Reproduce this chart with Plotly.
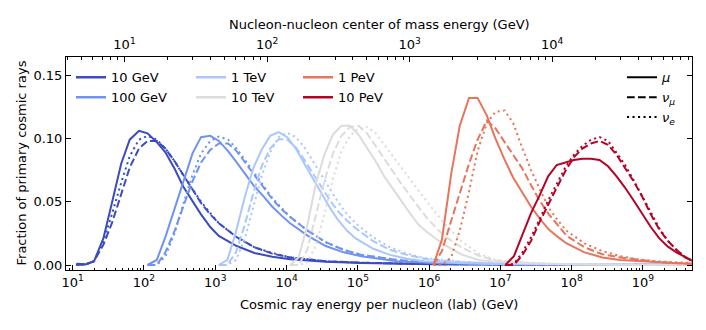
import plotly.graph_objects as go

# Primary cosmic ray energies and their colours (coolwarm)
energy_labels = ['10 GeV', '100 GeV', '1 TeV', '10 TeV', '1 PeV', '10 PeV']
colors = ['#3b4cc0', '#7092f3', '#aac7fd', '#dddcdc', '#e7755c', '#b40426']

# log10 of cosmic ray energy per nucleon (GeV) and fractions, one block per primary energy
loge_10gev = [1.05, 1.18, 1.30, 1.43, 1.55, 1.68, 1.80, 1.93, 2.05, 2.18, 2.30, 2.43, 2.55, 2.68,
              2.80, 2.93, 3.05, 3.30, 3.55, 3.80, 4.05, 4.55, 5.05, 6.05, 7.05, 8.05, 9.05, 9.70]
mu_10gev = [0.001, 0.0005, 0.003, 0.021, 0.049, 0.080, 0.099, 0.106, 0.104, 0.097, 0.089, 0.076, 0.062, 0.050,
            0.040, 0.030, 0.023, 0.015, 0.0095, 0.0065, 0.0045, 0.0025, 0.0015, 0.0006, 0.0003, 0.0002, 0.0001, 0.0001]
numu_10gev = [0.0, 0.0005, 0.003, 0.016, 0.033, 0.056, 0.077, 0.092, 0.098, 0.098, 0.092, 0.082, 0.071, 0.060,
              0.049, 0.040, 0.033, 0.022, 0.014, 0.009, 0.006, 0.003, 0.0018, 0.0007, 0.0003, 0.0002, 0.0001, 0.0001]
nue_10gev = [0.0, 0.0005, 0.003, 0.019, 0.040, 0.065, 0.086, 0.099, 0.102, 0.099, 0.092, 0.082, 0.071, 0.060,
             0.050, 0.041, 0.033, 0.022, 0.014, 0.0095, 0.006, 0.003, 0.0018, 0.0007, 0.0003, 0.0002, 0.0001, 0.0001]

loge_100gev = [2.05, 2.18, 2.30, 2.43, 2.55, 2.68, 2.80, 2.93, 3.05, 3.18, 3.30, 3.43, 3.55, 3.68,
               3.80, 3.93, 4.05, 4.30, 4.55, 4.80, 5.05, 5.55, 6.05, 7.05, 8.05, 9.05, 9.70]
mu_100gev = [0.0, 0.004, 0.022, 0.045, 0.066, 0.088, 0.101, 0.102, 0.098, 0.090, 0.081, 0.071, 0.062, 0.054,
             0.046, 0.039, 0.033, 0.023, 0.015, 0.010, 0.007, 0.003, 0.0015, 0.0006, 0.0003, 0.0002, 0.0001]
numu_100gev = [0.0, 0.0, 0.010, 0.027, 0.046, 0.066, 0.081, 0.091, 0.096, 0.096, 0.090, 0.080, 0.071, 0.061,
               0.052, 0.044, 0.038, 0.027, 0.018, 0.012, 0.008, 0.004, 0.002, 0.0007, 0.0003, 0.0002, 0.0001]
nue_100gev = [0.0, 0.0, 0.007, 0.025, 0.048, 0.071, 0.088, 0.098, 0.1015, 0.099, 0.092, 0.082, 0.072, 0.062,
              0.053, 0.045, 0.038, 0.027, 0.018, 0.012, 0.008, 0.004, 0.002, 0.0007, 0.0003, 0.0002, 0.0001]

loge_1tev = [3.05, 3.17, 3.29, 3.41, 3.53, 3.65, 3.77, 3.89, 4.01, 4.13, 4.25, 4.37, 4.49,
             4.61, 4.73, 4.85, 4.97, 5.21, 5.45, 5.69, 5.93, 6.41, 6.89, 7.85, 8.81, 9.70]
mu_1tev = [0.0, 0.004, 0.026, 0.053, 0.076, 0.091, 0.102, 0.105, 0.101, 0.092, 0.080, 0.068, 0.056,
           0.045, 0.035, 0.027, 0.021, 0.013, 0.008, 0.005, 0.003, 0.0015, 0.0008, 0.0004, 0.0002, 0.0001]
numu_1tev = [0.0, 0.0, 0.010, 0.031, 0.056, 0.078, 0.092, 0.0995, 0.099, 0.093, 0.083, 0.072, 0.061,
             0.051, 0.042, 0.035, 0.029, 0.019, 0.012, 0.008, 0.005, 0.0025, 0.0012, 0.0005, 0.0002, 0.0001]
nue_1tev = [0.0, 0.0, 0.004, 0.020, 0.045, 0.070, 0.089, 0.101, 0.1045, 0.101, 0.093, 0.082, 0.070,
            0.059, 0.049, 0.040, 0.033, 0.022, 0.014, 0.009, 0.0055, 0.0028, 0.0013, 0.0005, 0.0002, 0.0001]

loge_10tev = [4.05, 4.17, 4.29, 4.41, 4.53, 4.65, 4.77, 4.89, 5.01, 5.13, 5.25, 5.37, 5.49,
              5.61, 5.73, 5.85, 5.97, 6.21, 6.45, 6.69, 6.93, 7.41, 7.89, 8.85, 9.70]
mu_10tev = [0.0, 0.006, 0.031, 0.064, 0.087, 0.103, 0.110, 0.110, 0.103, 0.093, 0.082, 0.070, 0.060,
            0.050, 0.041, 0.032, 0.026, 0.016, 0.0085, 0.004, 0.0025, 0.0012, 0.0006, 0.0002, 0.0001]
numu_10tev = [0.0, 0.0, 0.012, 0.038, 0.066, 0.088, 0.102, 0.109, 0.110, 0.104, 0.094, 0.083, 0.074,
              0.064, 0.055, 0.046, 0.037, 0.023, 0.014, 0.0075, 0.0035, 0.0015, 0.0007, 0.0003, 0.0001]
nue_10tev = [0.0, 0.0, 0.002, 0.015, 0.040, 0.068, 0.090, 0.102, 0.108, 0.109, 0.104, 0.095, 0.086,
             0.077, 0.068, 0.059, 0.050, 0.033, 0.019, 0.009, 0.004, 0.0018, 0.0008, 0.0003, 0.0001]

loge_1pev = [6.06, 6.18, 6.31, 6.43, 6.56, 6.68, 6.81, 6.93, 7.06, 7.18, 7.31, 7.43,
             7.56, 7.68, 7.81, 7.93, 8.18, 8.43, 8.68, 8.93, 9.18, 9.43, 9.70]
mu_1pev = [0.0, 0.020, 0.072, 0.110, 0.132, 0.132, 0.118, 0.100, 0.083, 0.069, 0.057, 0.046,
           0.036, 0.028, 0.022, 0.017, 0.010, 0.006, 0.004, 0.003, 0.002, 0.0015, 0.001]
numu_1pev = [0.0, 0.011, 0.035, 0.056, 0.080, 0.099, 0.114, 0.108, 0.097, 0.087, 0.076, 0.063,
             0.050, 0.040, 0.031, 0.023, 0.014, 0.0085, 0.006, 0.004, 0.0025, 0.0015, 0.001]
nue_1pev = [0.0, 0.0, 0.006, 0.027, 0.058, 0.090, 0.112, 0.121, 0.122, 0.112, 0.092, 0.075,
            0.059, 0.045, 0.035, 0.027, 0.017, 0.011, 0.007, 0.0045, 0.003, 0.002, 0.0015]

loge_10pev = [7.07, 7.19, 7.31, 7.43, 7.55, 7.67, 7.79, 7.91, 8.03, 8.15, 8.27, 8.39,
              8.51, 8.63, 8.75, 8.87, 8.99, 9.11, 9.23, 9.35, 9.47, 9.59, 9.70]
mu_10pev = [0.0, 0.007, 0.024, 0.041, 0.055, 0.070, 0.079, 0.081, 0.083, 0.084, 0.084, 0.083,
            0.078, 0.070, 0.061, 0.051, 0.040, 0.030, 0.021, 0.0145, 0.010, 0.006, 0.003]
numu_10pev = [0.0, 0.0, 0.008, 0.019, 0.034, 0.048, 0.061, 0.074, 0.085, 0.092, 0.096, 0.098,
              0.095, 0.087, 0.077, 0.066, 0.054, 0.040, 0.028, 0.019, 0.012, 0.006, 0.003]
nue_10pev = [0.0, 0.001, 0.010, 0.022, 0.036, 0.051, 0.064, 0.077, 0.087, 0.094, 0.099, 0.101,
             0.098, 0.089, 0.079, 0.067, 0.054, 0.041, 0.029, 0.019, 0.012, 0.0065, 0.003]

groups = [
    (loge_10gev, mu_10gev, numu_10gev, nue_10gev),
    (loge_100gev, mu_100gev, numu_100gev, nue_100gev),
    (loge_1tev, mu_1tev, numu_1tev, nue_1tev),
    (loge_10tev, mu_10tev, numu_10tev, nue_10tev),
    (loge_1pev, mu_1pev, numu_1pev, nue_1pev),
    (loge_10pev, mu_10pev, numu_10pev, nue_10pev),
]

particle_labels = ['<i>μ</i>', '<i>ν<sub>μ</sub></i>', '<i>ν<sub>e</sub></i>']
dashes = ['solid', '7.7px,3.3px', '2.1px,3.4px']

bottom_ticks = [10, 1e2, 1e3, 1e4, 1e5, 1e6, 1e7, 1e8, 1e9]
bottom_text = ['10<sup>%d</sup>' % k for k in range(1, 10)]
top_sqrt_s = [10, 100, 1000, 10000]
top_text = ['10<sup>1</sup>', '10<sup>2</sup>', '10<sup>3</sup>', '10<sup>4</sup>']
m_nucleon = 0.938

fig = go.Figure()

for (loge, mu, numu, nue), c in zip(groups, colors):
    e = [10 ** v for v in loge]
    for y, d in zip([mu, numu, nue], dashes):
        fig.add_trace(go.Scatter(x=e, y=y, mode='lines', line=dict(color=c, width=2, dash=d),
                                 showlegend=False, hoverinfo='skip'))

# energy legends, one per column
for i, (lab, c) in enumerate(zip(energy_labels, colors)):
    lg = ['legend', 'legend2', 'legend3'][i // 2]
    fig.add_trace(go.Scatter(x=[None], y=[None], mode='lines', name=lab,
                             line=dict(color=c, width=2.5), legend=lg))

# particle legend
for lab, d in zip(particle_labels, dashes):
    fig.add_trace(go.Scatter(x=[None], y=[None], mode='lines', name=lab,
                             line=dict(color='black', width=2, dash=d), legend='legend4'))

# dummy trace for the top axis
fig.add_trace(go.Scatter(x=[None], y=[None], xaxis='x2', showlegend=False, hoverinfo='skip'))

font = dict(family='DejaVu Sans', size=13, color='black')
minor_bottom = [k * 10 ** p for p in range(0, 10) for k in range(2, 10)]
top_vals = [s ** 2 / (2 * m_nucleon) for s in top_sqrt_s]
minor_top = [(k * 10 ** p) ** 2 / (2 * m_nucleon) for p in range(0, 5) for k in range(2, 10)]

legend_common = dict(bgcolor='rgba(0,0,0,0)', font=font, yanchor='top', xanchor='left',
                     itemwidth=30, tracegroupgap=0)

fig.update_layout(
    width=706, height=330,
    margin=dict(l=66, r=14, t=57, b=60),
    paper_bgcolor='white', plot_bgcolor='white',
    font=font,
    xaxis=dict(type='log', range=[0.906, 9.688], tickmode='array', tickvals=bottom_ticks,
               ticktext=bottom_text, ticks='inside', ticklen=5, tickcolor='black',
               showline=True, linecolor='black', linewidth=1, mirror=True, showgrid=False,
               zeroline=False, tickfont=font, automargin=False,
               minor=dict(tickmode='array', tickvals=minor_bottom, ticks='inside', ticklen=2.5,
                          tickcolor='black')),
    xaxis2=dict(type='log', range=[0.906, 9.688], overlaying='x', side='top', anchor='y',
                tickmode='array', tickvals=top_vals, ticktext=top_text, ticks='inside', ticklen=5,
                tickcolor='black', showgrid=False, zeroline=False, tickfont=font, automargin=False,
                ticklabelstandoff=4,
                minor=dict(tickmode='array', tickvals=minor_top, ticks='inside', ticklen=2.5,
                           tickcolor='black')),
    yaxis=dict(range=[-0.00395, 0.1643], tickmode='array', tickvals=[0, 0.05, 0.10, 0.15],
               ticktext=['0.00', '0.05', '0.10', '0.15'], ticks='inside', ticklen=5,
               tickcolor='black', showline=True, linecolor='black', linewidth=1, mirror='ticks',
               showgrid=False, zeroline=False, tickfont=font, automargin=False),
    legend=dict(x=(71 - 66) / 626, y=0.975, **legend_common),
    legend2=dict(x=(191 - 66) / 626, y=0.975, **legend_common),
    legend3=dict(x=(298 - 66) / 626, y=0.975, **legend_common),
    legend4=dict(x=(622 - 66) / 626, y=0.975, **legend_common),
    annotations=[
        dict(text='Cosmic ray energy per nucleon (lab) (GeV)', xref='paper', yref='paper',
             x=0.5, y=-(304 - 270) / 213, xanchor='center', yanchor='middle', showarrow=False, font=font),
        dict(text='Nucleon-nucleon center of mass energy (GeV)', xref='paper', yref='paper',
             x=0.5, y=1 + (57 - 24) / 213, xanchor='center', yanchor='middle', showarrow=False, font=font),
        dict(text='Fraction of primary cosmic rays', xref='paper', yref='paper', textangle=-90,
             x=-(66 - 21) / 626, y=0.5, xanchor='center', yanchor='middle', showarrow=False, font=font),
    ],
)

fig.write_html("out.html", config={'displayModeBar': False},
               post_script="document.body.style.margin='0';")
